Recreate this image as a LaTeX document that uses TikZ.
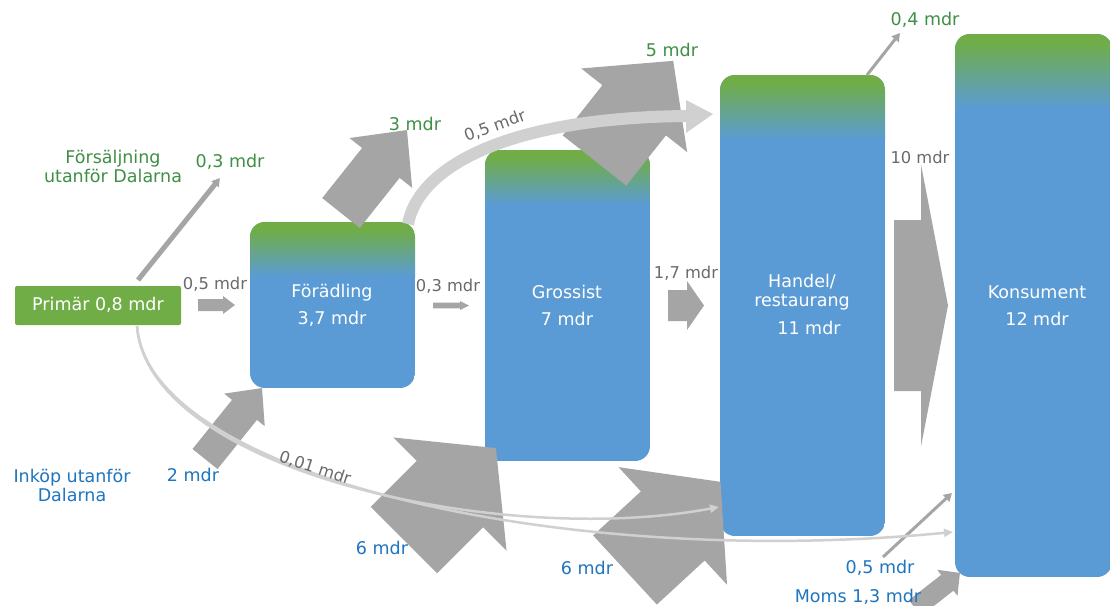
\documentclass[tikz,border=0pt]{standalone}
\usepackage{fontspec}
\setmainfont{DejaVu Sans}
\usetikzlibrary{arrows.meta}
\definecolor{boxgreen}{HTML}{70AD47}
\definecolor{boxblue}{HTML}{5B9BD5}
\definecolor{arrowgray}{HTML}{A5A5A5}
\definecolor{curvegray}{HTML}{D0D0D0}
\definecolor{txtgreen}{HTML}{3F8F46}
\definecolor{txtblue}{HTML}{1F75BE}
\definecolor{txtgray}{HTML}{6A6A6A}
% #1 base coordinate, #2 angle, #3 length, #4 shaft half width, #5 head half width, #6 head length
\newcommand{\blockarrow}[6]{\fill[arrowgray, shift={(#1)}, rotate=#2] (0,#4) -- ({#3-#6},#4) -- ({#3-#6},#5) -- (#3,0) -- ({#3-#6},-#5) -- ({#3-#6},-#4) -- (0,-#4) -- cycle;}
\tikzset{
  stage/.style={rectangle, rounded corners=15pt, inner sep=0pt,
    path picture={
      \fill[boxblue, sharp corners] (path picture bounding box.north west) rectangle (path picture bounding box.south east);
      \fill[boxgreen, sharp corners] (path picture bounding box.north west) rectangle ([yshift=-8]path picture bounding box.north east);
      \shade[top color=boxgreen, bottom color=boxblue, sharp corners] ([yshift=-7.5]path picture bounding box.north west) rectangle ([yshift=-#1]path picture bounding box.north east);
    }},
  lbl/.style={inner sep=0pt, font=\fontsize{17.5}{19}\selectfont, align=center},
  glbl/.style={lbl, text=txtgreen},
  blbl/.style={lbl, text=txtblue},
  ylbl/.style={inner sep=0pt, font=\fontsize{16.3}{18}\selectfont, text=txtgray},
  wlbl/.style={inner sep=0pt, font=\fontsize{17.5}{19}\selectfont, text=white, align=center},
  thinflow/.style={curvegray, line width=2.5pt, -{Triangle[length=9pt,width=8pt]}},
  straightflow/.style={arrowgray, -{Triangle[length=8pt,width=9pt]}},
}
\begin{document}
\begin{tikzpicture}[x=1pt, y=-1pt]
\useasboundingbox (0,0) rectangle (1110,605);
\fill[white] (0,0) rectangle (1110,605);

% stages
\node[rectangle, rounded corners=2pt, fill=boxgreen, minimum width=166, minimum height=39, inner sep=0pt] (prim) at (98,305.5) {};
\node[stage=55, minimum width=165, minimum height=166] (foer) at (332.5,305) {};
\node[stage=55, minimum width=165, minimum height=311] (gross) at (567.5,305.5) {};
\node[stage=65, minimum width=165, minimum height=461] (handel) at (802.5,305.5) {};
\node[stage=75, minimum width=157, minimum height=543] (kons) at (1033.5,305.5) {};

% block arrow bases
\coordinate (aPF) at (198,305);
\coordinate (a3) at (341,213);
\coordinate (a5) at (594.5,160.5);
\coordinate (aFG) at (433,305.5);
\coordinate (aGH) at (668,305.5);
\coordinate (aHK) at (894,305.5);
\coordinate (a2) at (205,459);
\coordinate (a6a) at (404,540);
\coordinate (a6b) at (625,570);
\coordinate (aM) at (915,608);

\blockarrow{aPF}{0}{37}{6}{9}{12}
\blockarrow{a3}{51.5}{106}{24}{40}{42}
\blockarrow{a5}{51.7}{127}{40.5}{67.5}{63}
\blockarrow{aFG}{0}{36}{2.8}{4.5}{9}
\blockarrow{aGH}{0}{36}{15.5}{24.5}{17}
\blockarrow{aHK}{0}{54}{85.5}{141}{27}
\blockarrow{a2}{51.2}{91}{16}{26}{28}
\blockarrow{a6a}{45}{130}{47}{80}{65}
\blockarrow{a6b}{42.7}{130}{47}{80}{65}
\blockarrow{aM}{38}{57}{10}{16.5}{16}

% straight thin arrows
\coordinate (s03) at (138,280);
\coordinate (e03) at (220,178);
\coordinate (s04) at (867,75);
\coordinate (e04) at (900,33);
\coordinate (s05) at (883,557);
\coordinate (e05) at (952,493);
\draw[straightflow, line width=5pt] (s03) -- (e03);
\draw[straightflow, line width=3pt] (s04) -- (e04);
\draw[straightflow, line width=3pt] (s05) -- (e05);

% thin curved flows
\coordinate (cs) at (137,326);
\coordinate (ce1) at (719,507);
\coordinate (ce2) at (953,532);
\draw[thinflow] (cs) .. controls (148,470) and (500,548) .. (ce1);
\draw[thinflow] (cs) .. controls (148,475) and (560,570) .. (ce2);

% thick curved flow
\coordinate (ts) at (408,224);
\coordinate (te) at (686,116);
\coordinate (tt) at (713,114);
\draw[curvegray, line width=12pt] (ts) .. controls (418,170) and (500,118) .. (te);
\fill[curvegray] ([yshift=-17]te) -- (tt) -- ([yshift=16]te) -- cycle;

% labels
\node[wlbl] (tprim) at (98,305) {Primär 0,8 mdr};
\node[wlbl] (tfoer) at (332,305.5) {Förädling\\[8pt]3,7 mdr};
\node[wlbl] (tgross) at (567,305.5) {Grossist\\[8pt]7 mdr};
\node[wlbl] (thandel) at (802,292.5) {Handel/\\restaurang};
\node[wlbl] (thandel2) at (809,328) {11 mdr};
\node[wlbl] (tkons) at (1037,305.5) {Konsument\\[8pt]12 mdr};

\node[glbl] (lfors) at (113,166) {Försäljning\\utanför Dalarna};
\node[glbl] (l03) at (230,162) {0,3 mdr};
\node[glbl] (l3) at (415,124) {3 mdr};
\node[glbl] (l5) at (672,50) {5 mdr};
\node[glbl] (l04) at (925,20) {0,4 mdr};

\node[ylbl] (l05a) at (215,284) {0,5 mdr};
\node[ylbl] (l03b) at (448,286) {0,3 mdr};
\node[ylbl] (l17) at (686,273) {1,7 mdr};
\node[ylbl] (l10) at (920,157) {10 mdr};
\node[ylbl, rotate=20] (l05c) at (495,126) {0,5 mdr};
\node[ylbl, rotate=-18] (l001) at (315,468) {0,01 mdr};

\node[blbl] (link) at (72,485.5) {Inköp utanför\\Dalarna};
\node[blbl] (l2) at (193,475) {2 mdr};
\node[blbl] (l6a) at (382,548) {6 mdr};
\node[blbl] (l6b) at (587,568) {6 mdr};
\node[blbl] (l05m) at (880,568) {0,5 mdr};
\node[blbl] (lmoms) at (858,597) {Moms 1,3 mdr};
\end{tikzpicture}
\end{document}
